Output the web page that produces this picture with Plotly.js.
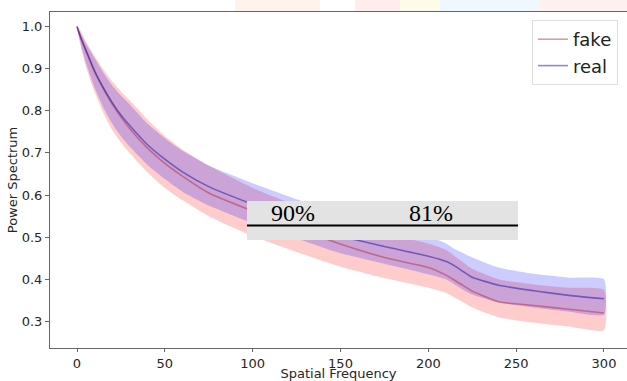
<!DOCTYPE html>
<html>
<head>
<meta charset="utf-8">
<script src="https://cdn.plot.ly/plotly-3.0.1.min.js"></script>
<style>html,body{margin:0;padding:0;background:#fff;}#chart{width:627px;height:381px;}</style>
</head>
<body>
<div id="chart"></div>
<script>
// Spatial frequency sample points
const freq = [0, 2, 5, 10, 15, 20, 25, 30, 40, 50, 60, 75, 100, 125, 150, 175, 200, 210, 215, 220, 225, 240, 260, 280, 300];
// fake: mean and band
const fakeMean = [1.0, 0.975, 0.943, 0.892, 0.852, 0.816, 0.785, 0.758, 0.712, 0.675, 0.645, 0.605, 0.562, 0.522, 0.484, 0.452, 0.428, 0.41, 0.398, 0.385, 0.372, 0.347, 0.338, 0.329, 0.32];
const fakeHigh = [1.0, 0.99, 0.965, 0.93, 0.898, 0.87, 0.846, 0.825, 0.78, 0.74, 0.708, 0.67, 0.617, 0.575, 0.54, 0.51, 0.485, 0.47, 0.455, 0.44, 0.425, 0.4, 0.388, 0.38, 0.375];
const fakeLow  = [1.0, 0.955, 0.905, 0.845, 0.795, 0.755, 0.725, 0.70, 0.655, 0.617, 0.588, 0.55, 0.503, 0.465, 0.43, 0.403, 0.38, 0.368, 0.357, 0.345, 0.333, 0.31, 0.297, 0.288, 0.279];
// real: mean and band
const realMean = [1.0, 0.975, 0.945, 0.895, 0.855, 0.82, 0.79, 0.765, 0.72, 0.685, 0.655, 0.62, 0.578, 0.54, 0.503, 0.478, 0.455, 0.443, 0.432, 0.418, 0.405, 0.386, 0.373, 0.362, 0.354];
const realHigh = [1.0, 0.985, 0.96, 0.925, 0.89, 0.86, 0.836, 0.815, 0.77, 0.735, 0.705, 0.67, 0.628, 0.59, 0.555, 0.528, 0.502, 0.485, 0.472, 0.462, 0.452, 0.428, 0.413, 0.404, 0.40];
const realLow  = [1.0, 0.96, 0.915, 0.855, 0.808, 0.77, 0.74, 0.715, 0.672, 0.638, 0.608, 0.575, 0.533, 0.497, 0.462, 0.437, 0.412, 0.4, 0.388, 0.375, 0.364, 0.345, 0.333, 0.323, 0.316];
const seriesNames = ["fake", "real"];
const xTicks = [0, 50, 100, 150, 200, 250, 300];
const yTicks = [0.3, 0.4, 0.5, 0.6, 0.7, 0.8, 0.9, 1.0];
const tableLabels = ["90%", "81%"];

function band(lo, hi, color) {
  return {
    x: freq.concat(freq.slice().reverse()),
    y: lo.concat(hi.slice().reverse()),
    type: "scatter", mode: "lines", fill: "toself",
    fillcolor: color, line: {width: 0, shape: "spline", smoothing: 0.5},
    hoverinfo: "skip", showlegend: false
  };
}

const traces = [
  band(fakeLow, fakeHigh, "rgba(255,0,0,0.2)"),
  band(realLow, realHigh, "rgba(0,0,255,0.2)"),
  {x: freq, y: fakeMean, type: "scatter", mode: "lines", name: seriesNames[0],
   line: {color: "rgba(178,34,52,0.45)", width: 1.6, shape: "spline", smoothing: 0.5}},
  {x: freq, y: realMean, type: "scatter", mode: "lines", name: seriesNames[1],
   line: {color: "rgba(0,0,160,0.45)", width: 1.6, shape: "spline", smoothing: 0.5}}
];

// pixel -> paper helpers for the overlay box
const L = 50, R = 627, T = 12, B = 348;
const px = v => (v - L) / (R - L);
const py = v => (B - v) / (B - T);

const layout = {
  width: 627, height: 381,
  margin: {l: L, r: 627 - R, t: T, b: 381 - B},
  paper_bgcolor: "#fff", plot_bgcolor: "#fff",
  font: {family: "DejaVu Sans", size: 13, color: "#262626"},
  xaxis: {
    range: [-15.37, 313.1], tickvals: xTicks, ticktext: xTicks.map(String),
    showgrid: false, zeroline: false, showline: true, linecolor: "#666", linewidth: 1,
    mirror: true, ticks: "outside", ticklen: 3, tickcolor: "#666",
    tickfont: {size: 13, color: "#262626"},
    title: {text: "Spatial Frequency", font: {size: 13, color: "#262626"}, standoff: 5}
  },
  yaxis: {
    range: [0.2371, 1.0344], tickvals: yTicks, ticktext: yTicks.map(v => v.toFixed(1)),
    showgrid: false, zeroline: false, showline: true, linecolor: "#666", linewidth: 1,
    ticks: "outside", ticklen: 4, tickcolor: "#666",
    tickfont: {size: 13, color: "#262626"},
    title: {text: "Power Spectrum", font: {size: 13, color: "#262626"}, standoff: 1}
  },
  legend: {
    x: px(618), y: py(20), xanchor: "right", yanchor: "top",
    bgcolor: "rgba(255,255,255,0.9)", bordercolor: "#ddd", borderwidth: 1,
    font: {size: 18, color: "#222"}
  },
  shapes: [
    // faint header watermark fragments above the axes
    {type: "rect", xref: "paper", yref: "paper", x0: px(235), x1: px(320), y0: py(12), y1: py(0), fillcolor: "rgba(255,170,120,0.14)", line: {width: 0}, layer: "below"},
    {type: "rect", xref: "paper", yref: "paper", x0: px(355), x1: px(400), y0: py(12), y1: py(0), fillcolor: "rgba(255,120,120,0.14)", line: {width: 0}, layer: "below"},
    {type: "rect", xref: "paper", yref: "paper", x0: px(400), x1: px(440), y0: py(12), y1: py(0), fillcolor: "rgba(255,230,120,0.16)", line: {width: 0}, layer: "below"},
    {type: "rect", xref: "paper", yref: "paper", x0: px(440), x1: px(540), y0: py(12), y1: py(0), fillcolor: "rgba(140,200,255,0.14)", line: {width: 0}, layer: "below"},
    {type: "rect", xref: "paper", yref: "paper", x0: px(540), x1: px(627), y0: py(12), y1: py(0), fillcolor: "rgba(255,150,140,0.13)", line: {width: 0}, layer: "below"},
    // gray overlay box with rule
    {type: "rect", xref: "paper", yref: "paper", x0: px(247), x1: px(518), y0: py(240), y1: py(201), fillcolor: "#e3e3e3", line: {width: 0}, layer: "above"},
    {type: "line", xref: "paper", yref: "paper", x0: px(247), x1: px(518), y0: py(225.5), y1: py(225.5), line: {color: "#000", width: 2}, layer: "above"}
  ],
  annotations: [
    {xref: "paper", yref: "paper", x: px(293), y: py(213), xanchor: "center", yanchor: "middle", showarrow: false,
     text: tableLabels[0], font: {family: "Liberation Serif", size: 24, color: "#000"}},
    {xref: "paper", yref: "paper", x: px(431), y: py(213), xanchor: "center", yanchor: "middle", showarrow: false,
     text: tableLabels[1], font: {family: "Liberation Serif", size: 24, color: "#000"}}
  ]
};

Plotly.newPlot("chart", traces, layout, {displayModeBar: false, staticPlot: true});
</script>
</body>
</html>
